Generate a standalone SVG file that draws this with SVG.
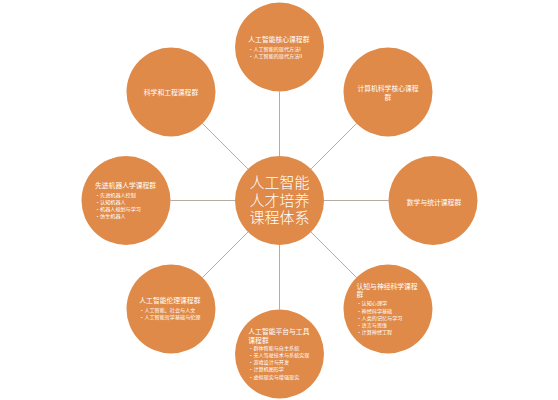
<svg xmlns="http://www.w3.org/2000/svg" width="558" height="400" viewBox="0 0 558 400">
<style>
.c{fill:#DF8A48}
.t{font-family:"Noto Sans CJK SC","Noto Sans",sans-serif;fill:#ffffff}
.h{font-size:6.8px}
.b{font-size:5.1px}
.m{font-size:15px;text-anchor:middle;font-weight:300}
.mid{text-anchor:middle}
.ln{stroke:#A59585;stroke-width:0.8;fill:none}
</style>
<rect width="558" height="400" fill="#ffffff"/>
<g id="connectors">
<line class="ln" x1="279.5" y1="156" x2="279.5" y2="91.5"/>
<line class="ln" x1="279.5" y1="245" x2="279.5" y2="309.5"/>
<line class="ln" x1="235" y1="200.5" x2="170.5" y2="200.5"/>
<line class="ln" x1="324" y1="200.5" x2="388.5" y2="200.5"/>
<line class="ln" x1="248" y1="169" x2="202.4" y2="123.4"/>
<line class="ln" x1="311" y1="169" x2="356.6" y2="123.4"/>
<line class="ln" x1="248" y1="232" x2="202.4" y2="277.6"/>
<line class="ln" x1="311" y1="232" x2="356.6" y2="277.6"/>
</g>
<g id="center">
<circle class="c" cx="279.5" cy="200.5" r="44.5"/>
<text class="t m" x="279.5" y="188"><tspan x="279.5" y="188">人工智能</tspan><tspan x="279.5" y="205.5">人才培养</tspan><tspan x="279.5" y="223">课程体系</tspan></text>
</g>
<g id="n-top">
<circle class="c" cx="279.5" cy="47" r="44.5"/>
<text class="t h" x="248.3" y="42">人工智能核心课程群</text>
<text class="t b" x="248.3" y="51">•人工智能的现代方法I</text>
<text class="t b" x="248.3" y="57.7">•人工智能的现代方法II</text>
</g>
<g id="n-topright">
<circle class="c" cx="388" cy="92" r="44.5"/>
<text class="t h mid" x="388" y="91"><tspan x="388" y="91">计算机科学核心课程</tspan><tspan x="388" y="99.5">群</tspan></text>
</g>
<g id="n-right">
<circle class="c" cx="433" cy="200.5" r="44.5"/>
<text class="t h mid" x="434" y="205">数学与统计课程群</text>
</g>
<g id="n-bottomright">
<circle class="c" cx="388" cy="309" r="44.5"/>
<text class="t h" x="356.5" y="288.5"><tspan x="356.5" y="288.5">认知与神经科学课程</tspan><tspan x="356.5" y="297">群</tspan></text>
<text class="t b" x="356.5" y="305.3">•认知心理学</text>
<text class="t b" x="356.5" y="312.5">•神经科学基础</text>
<text class="t b" x="356.5" y="319.7">•人类的记忆与学习</text>
<text class="t b" x="356.5" y="326.7">•语言与思维</text>
<text class="t b" x="356.5" y="334">•计算神经工程</text>
</g>
<g id="n-bottom">
<circle class="c" cx="279.5" cy="354" r="44.5"/>
<text class="t h" x="248.3" y="334"><tspan x="248.3" y="334">人工智能平台与工具</tspan><tspan x="248.3" y="343">课程群</tspan></text>
<text class="t b" x="248.3" y="349.5">•群体智能与自主系统</text>
<text class="t b" x="248.3" y="356.7">•无人驾驶技术与系统实现</text>
<text class="t b" x="248.3" y="364">•游戏设计与开发</text>
<text class="t b" x="248.3" y="371.4">•计算机图形学</text>
<text class="t b" x="248.3" y="378.8">•虚拟现实与增强现实</text>
</g>
<g id="n-bottomleft">
<circle class="c" cx="171" cy="309" r="44.5"/>
<text class="t h" x="139.3" y="303">人工智能伦理课程群</text>
<text class="t b" x="139.3" y="312">•人工智能、社会与人文</text>
<text class="t b" x="139.3" y="319">•人工智能哲学基础与伦理</text>
</g>
<g id="n-left">
<circle class="c" cx="126" cy="200.5" r="44.5"/>
<text class="t h" x="95" y="187.5">先进机器人学课程群</text>
<text class="t b" x="95" y="197">•先进机器人控制</text>
<text class="t b" x="95" y="203.8">•认知机器人</text>
<text class="t b" x="95" y="210.8">•机器人规划与学习</text>
<text class="t b" x="95" y="217.6">•仿生机器人</text>
</g>
<g id="n-topleft">
<circle class="c" cx="171" cy="92" r="44.5"/>
<text class="t h mid" x="171" y="94.5">科学和工程课程群</text>
</g>
</svg>
